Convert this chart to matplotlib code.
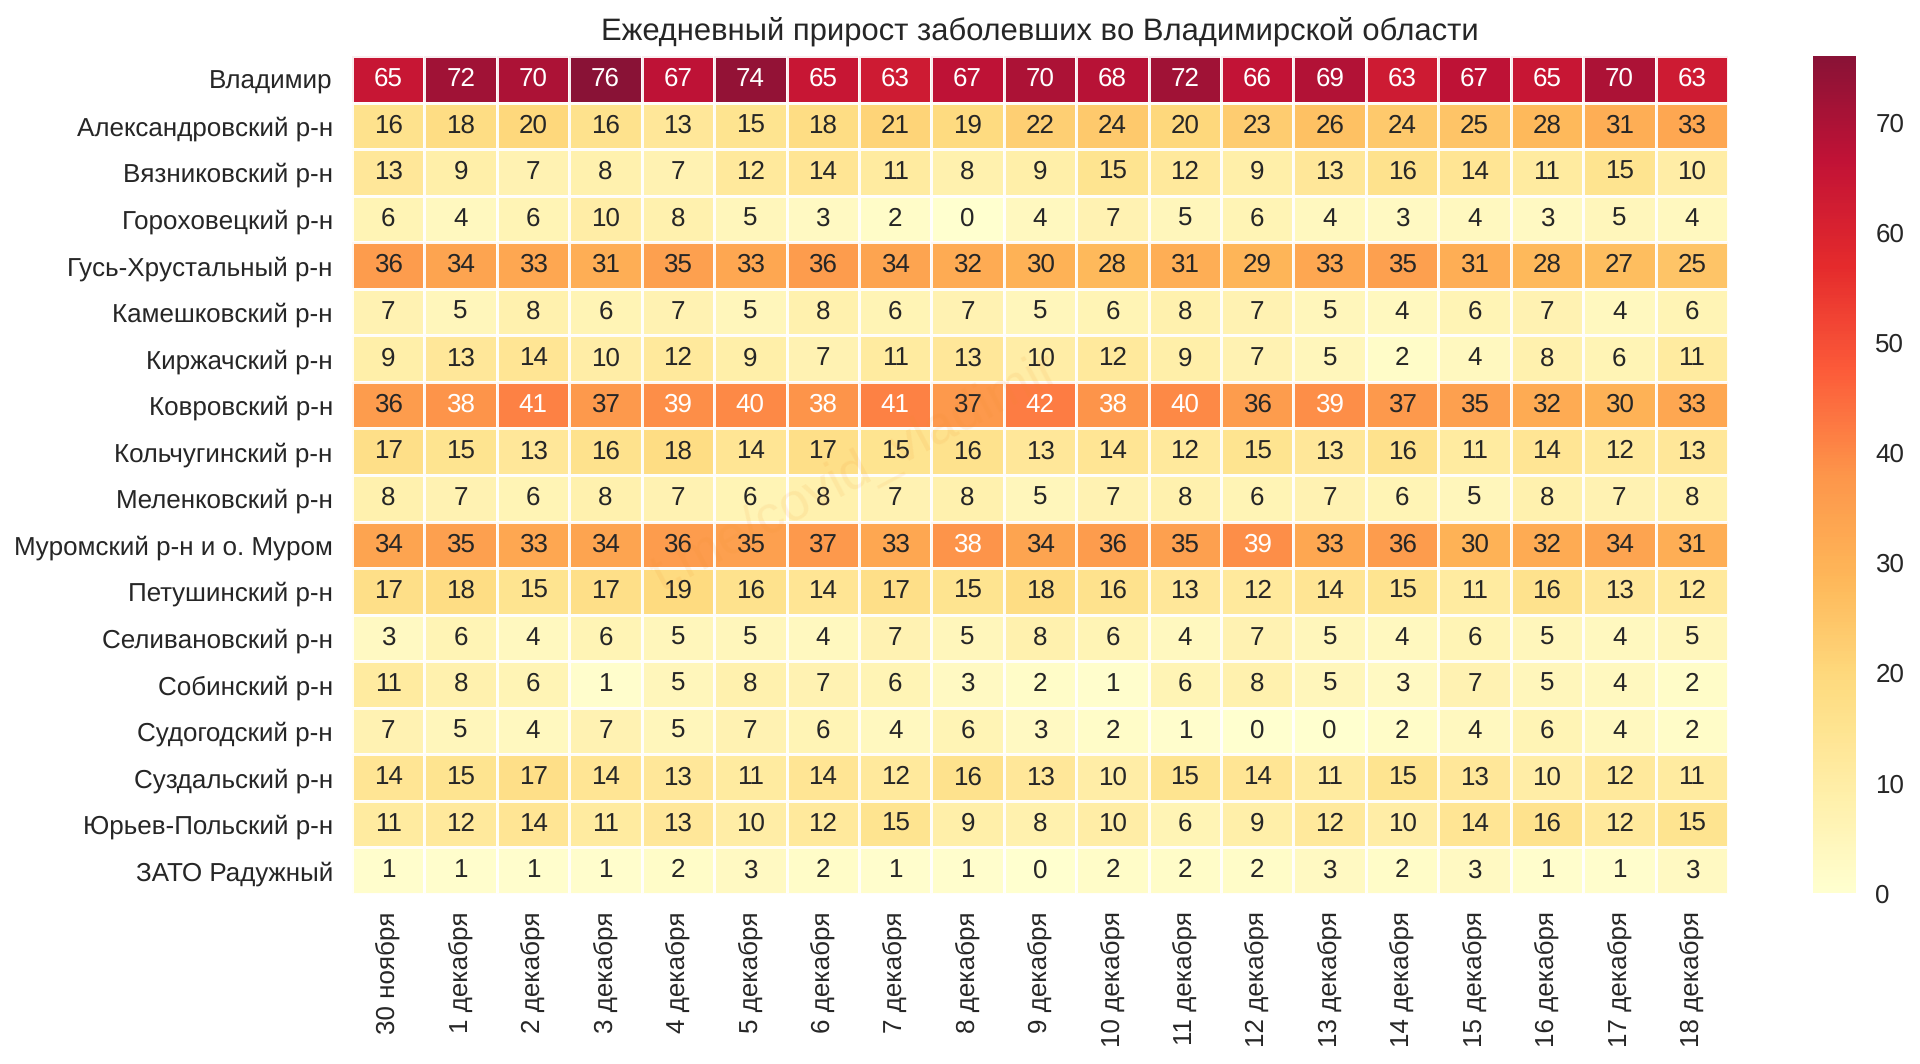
import matplotlib
matplotlib.use("Agg")
import matplotlib.pyplot as plt
import numpy as np
import seaborn as sns

regions = ["Владимир", "Александровский р-н", "Вязниковский р-н", "Гороховецкий р-н",
           "Гусь-Хрустальный р-н", "Камешковский р-н", "Киржачский р-н", "Ковровский р-н",
           "Кольчугинский р-н", "Меленковский р-н", "Муромский р-н и о. Муром", "Петушинский р-н",
           "Селивановский р-н", "Собинский р-н", "Судогодский р-н", "Суздальский р-н",
           "Юрьев-Польский р-н", "ЗАТО Радужный"]
dates = ["30 ноября", "1 декабря", "2 декабря", "3 декабря", "4 декабря", "5 декабря", "6 декабря",
         "7 декабря", "8 декабря", "9 декабря", "10 декабря", "11 декабря", "12 декабря", "13 декабря",
         "14 декабря", "15 декабря", "16 декабря", "17 декабря", "18 декабря"]

vladimir = [65, 72, 70, 76, 67, 74, 65, 63, 67, 70, 68, 72, 66, 69, 63, 67, 65, 70, 63]
aleksandrov = [16, 18, 20, 16, 13, 15, 18, 21, 19, 22, 24, 20, 23, 26, 24, 25, 28, 31, 33]
vyazniki = [13, 9, 7, 8, 7, 12, 14, 11, 8, 9, 15, 12, 9, 13, 16, 14, 11, 15, 10]
gorokhovets = [6, 4, 6, 10, 8, 5, 3, 2, 0, 4, 7, 5, 6, 4, 3, 4, 3, 5, 4]
gus = [36, 34, 33, 31, 35, 33, 36, 34, 32, 30, 28, 31, 29, 33, 35, 31, 28, 27, 25]
kameshkovo = [7, 5, 8, 6, 7, 5, 8, 6, 7, 5, 6, 8, 7, 5, 4, 6, 7, 4, 6]
kirzhach = [9, 13, 14, 10, 12, 9, 7, 11, 13, 10, 12, 9, 7, 5, 2, 4, 8, 6, 11]
kovrov = [36, 38, 41, 37, 39, 40, 38, 41, 37, 42, 38, 40, 36, 39, 37, 35, 32, 30, 33]
kolchugino = [17, 15, 13, 16, 18, 14, 17, 15, 16, 13, 14, 12, 15, 13, 16, 11, 14, 12, 13]
melenki = [8, 7, 6, 8, 7, 6, 8, 7, 8, 5, 7, 8, 6, 7, 6, 5, 8, 7, 8]
murom = [34, 35, 33, 34, 36, 35, 37, 33, 38, 34, 36, 35, 39, 33, 36, 30, 32, 34, 31]
petushki = [17, 18, 15, 17, 19, 16, 14, 17, 15, 18, 16, 13, 12, 14, 15, 11, 16, 13, 12]
selivanovo = [3, 6, 4, 6, 5, 5, 4, 7, 5, 8, 6, 4, 7, 5, 4, 6, 5, 4, 5]
sobinka = [11, 8, 6, 1, 5, 8, 7, 6, 3, 2, 1, 6, 8, 5, 3, 7, 5, 4, 2]
sudogda = [7, 5, 4, 7, 5, 7, 6, 4, 6, 3, 2, 1, 0, 0, 2, 4, 6, 4, 2]
suzdal = [14, 15, 17, 14, 13, 11, 14, 12, 16, 13, 10, 15, 14, 11, 15, 13, 10, 12, 11]
yuryev = [11, 12, 14, 11, 13, 10, 12, 15, 9, 8, 10, 6, 9, 12, 10, 14, 16, 12, 15]
raduzhny = [1, 1, 1, 1, 2, 3, 2, 1, 1, 0, 2, 2, 2, 3, 2, 3, 1, 1, 3]

values = np.array([vladimir, aleksandrov, vyazniki, gorokhovets, gus, kameshkovo, kirzhach, kovrov,
                   kolchugino, melenki, murom, petushki, selivanovo, sobinka, sudogda, suzdal,
                   yuryev, raduzhny])

plt.rcParams['font.family'] = ['Liberation Sans', 'DejaVu Sans']
plt.rcParams['text.color'] = '.15'
plt.rcParams['xtick.color'] = '.15'
plt.rcParams['ytick.color'] = '.15'
plt.rcParams['text.hinting'] = 'none'
plt.rcParams['text.hinting_factor'] = 1

W, H = 1920, 1064
fig = plt.figure(figsize=(W / 100, H / 100), dpi=100)
ax = fig.add_axes([352 / W, 1 - 894 / H, (1728 - 352) / W, (894 - 56) / H])
cax = fig.add_axes([1813 / W, 1 - 893 / H, (1856 - 1813) / W, (893 - 56) / H])

sns.heatmap(values, ax=ax, cbar_ax=cax, cmap="YlOrRd", annot=True, fmt="d", linewidths=1.8,
            linecolor="white", annot_kws={"fontsize": 19}, vmin=0, vmax=76, alpha=0.93,
            xticklabels=dates, yticklabels=regions)
ax.tick_params(axis='x', length=0, labelsize=18.4, pad=12.5)
ax.tick_params(axis='y', length=0, labelsize=18.4, pad=13.8)
plt.setp(ax.get_xticklabels(), rotation=90, ha='center')
plt.setp(ax.get_yticklabels(), rotation=0, va='center_baseline')
ax.set_title("Ежедневный прирост заболевших во Владимирской области", fontsize=22.4, pad=11.5, color='.15')

cax.tick_params(length=0, labelsize=18.4, pad=14)
cax.set_yticks(range(0, 71, 10))

fig.text(855 / W, 1 - 473 / H, "t.me/covid_vladimir", fontsize=38, color='#f28c28', alpha=0.10,
         rotation=28, ha='center', va='center', zorder=5)

fig.savefig("out.png", dpi=100)
